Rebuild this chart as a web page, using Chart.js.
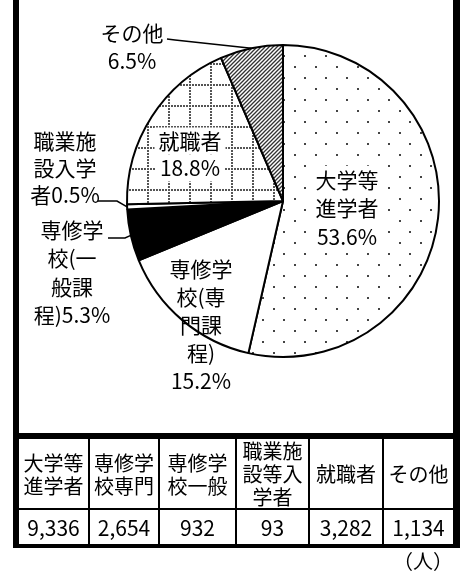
<!DOCTYPE html>
<html lang="ja">
<head>
<meta charset="utf-8">
<script src="https://cdn.jsdelivr.net/npm/chart.js@4.4.1/dist/chart.umd.min.js"></script>
<style>
  body { margin: 0; background: #fff; font-family: "Noto Sans CJK JP", sans-serif; color: #000; }
  #page { position: relative; width: 467px; height: 576px; overflow: hidden; }
  #pie { position: absolute; left: 0; top: 0; }
  .bar { position: absolute; background: #000; }
  table { position: absolute; left: 19px; top: 433px; width: 434px; border-collapse: separate; border-spacing: 0; table-layout: fixed; border-top: 6px solid #000; }
  td { padding: 0; text-align: center; border-left: 2px solid #000; }
  td:first-child { border-left: none; }
  tr.head td { border-bottom: 2px solid #000; }
  .hd { height: 69px; display: flex; align-items: center; justify-content: center; font-size: 20px; line-height: 23px; overflow: hidden; }
  .hd.top { align-items: flex-start; padding-top: 0; height: 69px; }
  .val { height: 34px; line-height: 34px; font-size: 21px; }
  #unit { position: absolute; left: 393px; top: 549px; font-size: 20px; line-height: 24px; }
</style>
</head>
<body>
<div id="page">
  <canvas id="pie" width="467" height="432"></canvas>
  <div class="bar" style="left:13px;top:0;width:6px;height:548px"></div>
  <div class="bar" style="left:453px;top:0;width:7px;height:548px"></div>
  <div class="bar" style="left:13px;top:544px;width:447px;height:4px"></div>
  <table id="tbl">
    <colgroup>
      <col style="width:69px"><col style="width:70px"><col style="width:77px">
      <col style="width:73px"><col style="width:74px"><col style="width:71px">
    </colgroup>
    <tr class="head" id="headRow"></tr>
    <tr id="valRow"></tr>
  </table>
  <div id="unit">（人）</div>
</div>
<script>
// data
const categories = ["大学等進学者", "専修学校(専門課程)", "専修学校(一般課程)", "職業施設入学者", "就職者", "その他"];
const values = [9336, 2654, 932, 93, 3282, 1134];
const tableHeads = [["大学等", "進学者"], ["専修学", "校専門"], ["専修学", "校一般"], ["職業施", "設等入", "学者"], ["就職者"], ["その他"]];
// how the pie labels wrap
const pieLabelLines = [["大学等", "進学者"], ["専修学", "校(専", "門課", "程)"], ["専修学", "校(一", "般課", "程)"], ["職業施", "設入学", "者"], ["就職者"], ["その他"]];

/* ================= PATTERNS ================= */
function makePattern(w, h, draw) {
    const c = document.createElement("canvas");
    c.width = w; c.height = h;
    const g = c.getContext("2d");
    g.fillStyle = "#fff";
    g.fillRect(0, 0, w, h);
    draw(g);
    return g.createPattern(c, "repeat");
}

const dotFill = makePattern(21, 22, g => {
    g.fillStyle = "#444";
    g.fillRect(0, 0, 2, 2);
    g.fillRect(10, 11, 2, 2);
});

const gridFill = makePattern(21, 21, g => {
    g.fillStyle = "#555";
    for (let i = 0; i < 21; i += 3) {
        g.fillRect(i, 0, 2, 2);
        g.fillRect(0, i, 2, 2);
    }
});

const stripeFill = makePattern(4, 4, g => {
    g.strokeStyle = "#333";
    g.lineWidth = 1.3;
    g.beginPath();
    g.moveTo(-1, 5); g.lineTo(5, -1);
    g.moveTo(-1, 1); g.lineTo(1, -1);
    g.moveTo(3, 5); g.lineTo(5, 3);
    g.stroke();
});

const fills = [dotFill, "#fff", "#000", "#fff", gridFill, stripeFill];

// label placement, offsets from the pie centre
const labelLayout = [
    { dx: 64, dy: -21, lh: 28.5, bg: true },
    { dx: -82, dy: 68, lh: 28 },
    { dx: -211, dy: 29, lh: 28.5, inline: true, lead: [-175, 37, -158, 37] },
    { dx: -218, dy: -60, lh: 27, inline: true, lead: [-185, 0, -166, 0] },
    { dx: -93, dy: -60, lh: 27, bg: true },
    { dx: -151, dy: -168, lh: 28, lead: [-116, -162, -108, -161] }
];

/* ================= LABEL PLUGIN ================= */
const pieLabels = {
    id: "pieLabels",
    afterDatasetsDraw(chart) {
        const ctx = chart.ctx;
        const arcs = chart.getDatasetMeta(0).data;
        const total = values.reduce((a, b) => a + b, 0);
        ctx.save();
        ctx.font = '21px "Noto Sans CJK JP"';
        ctx.textAlign = "center";
        ctx.textBaseline = "middle";
        labelLayout.forEach((lay, i) => {
            const arc = arcs[i];
            const pct = (values[i] / total * 100).toFixed(1) + "%";
            const lines = pieLabelLines[i].slice();
            if (lay.inline) lines[lines.length - 1] += pct;
            else lines.push(pct);

            const x = arc.x + lay.dx;
            lines.forEach((t, k) => {
                const y = arc.y + lay.dy + k * lay.lh;
                if (lay.bg) {
                    const w = ctx.measureText(t).width + 8;
                    ctx.fillStyle = "#fff";
                    ctx.fillRect(x - w / 2, y - lay.lh / 2, w, lay.lh);
                }
                ctx.fillStyle = "#000";
                ctx.fillText(t, x, y);
            });

            // leader line to the middle of the slice edge
            if (lay.lead) {
                const mid = (arc.startAngle + arc.endAngle) / 2;
                const ex = arc.x + Math.cos(mid) * arc.outerRadius;
                const ey = arc.y + Math.sin(mid) * arc.outerRadius;
                ctx.strokeStyle = "#000";
                ctx.lineWidth = 1.5;
                ctx.beginPath();
                ctx.moveTo(arc.x + lay.lead[0], arc.y + lay.lead[1]);
                ctx.lineTo(arc.x + lay.lead[2], arc.y + lay.lead[3]);
                ctx.lineTo(ex, ey);
                ctx.stroke();
            }
        });
        ctx.restore();
    }
};

/* ================= CHART ================= */
new Chart(document.getElementById("pie"), {
    type: "pie",
    data: {
        labels: categories,
        datasets: [{
            data: values,
            backgroundColor: fills,
            borderColor: "#000",
            borderWidth: 2,
            hoverOffset: 0,
            offset: 0
        }]
    },
    options: {
        responsive: false,
        animation: false,
        events: [],
        layout: { padding: { left: 126, right: 27, top: 44, bottom: 74 } },
        plugins: { legend: { display: false }, tooltip: { enabled: false } }
    },
    plugins: [pieLabels]
});

/* ================= TABLE ================= */
const headRow = document.getElementById("headRow");
const valRow = document.getElementById("valRow");
tableHeads.forEach((h, i) => {
    const td = document.createElement("td");
    td.innerHTML = `<div class="hd${h.length > 2 ? " top" : ""}"><span>${h.join("<br>")}</span></div>`;
    headRow.appendChild(td);
    const tv = document.createElement("td");
    tv.innerHTML = `<div class="val">${values[i].toLocaleString("en-US")}</div>`;
    valRow.appendChild(tv);
});
</script>
</body>
</html>
